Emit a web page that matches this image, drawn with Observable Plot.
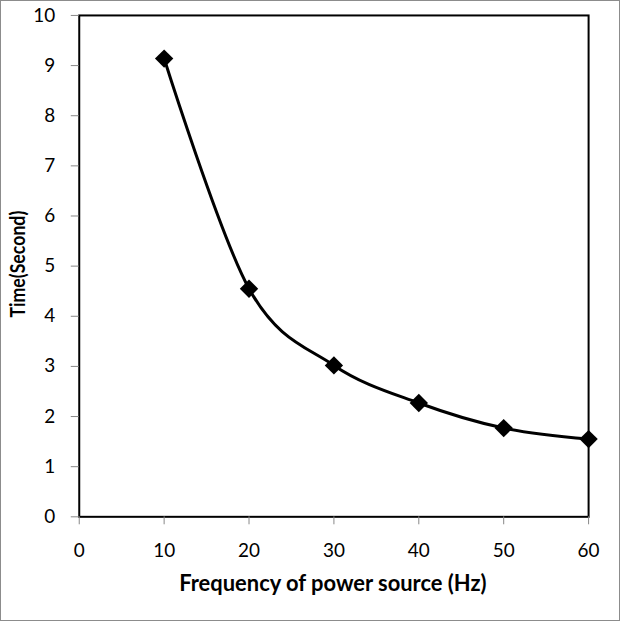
<!DOCTYPE html>
<html>
<head>
<meta charset="utf-8">
<script src="https://cdn.jsdelivr.net/npm/d3@7"></script>
<script src="https://cdn.jsdelivr.net/npm/@observablehq/plot@0.6"></script>
<style>
  html, body { margin: 0; padding: 0; background: #fff; }
  #wrap { position: relative; width: 618px; height: 619px; border: 1px solid #8c8c8c; overflow: hidden; }
  #wrap svg { position: absolute; left: -1px; top: -1px; }
</style>
</head>
<body>
<div id="wrap"></div>
<script>
const frequency = [10, 20, 30, 40, 50, 60];
const timeSeconds = [9.14, 4.55, 3.02, 2.27, 1.77, 1.55];
const xTicks = [0, 10, 20, 30, 40, 50, 60];
const yTicks = [0, 1, 2, 3, 4, 5, 6, 7, 8, 9, 10];
const xTitle = "Frequency of power source (Hz)";
const yTitle = "Time(Second)";

const data = frequency.map((f, i) => ({ f, t: timeSeconds[i] }));
const font = "Lato, 'Open Sans', sans-serif";

const chart = Plot.plot({
  width: 620,
  height: 621,
  marginLeft: 79,
  marginTop: 15,
  marginRight: 30,
  marginBottom: 103,
  style: { fontFamily: font, fontSize: "19px", color: "#000", background: "#fff" },
  x: { domain: [0, 60], label: null },
  y: { domain: [0, 10], label: null },
  marks: [
    Plot.frame({ stroke: "#000", strokeWidth: 2 }),
    Plot.axisX({ ticks: xTicks, tickSize: 8, tickPadding: 19, stroke: "#888", fill: "#000", fontSize: 19, label: null }),
    Plot.axisY({ ticks: yTicks, tickSize: 8, tickPadding: 16, stroke: "#888", fill: "#000", fontSize: 19, label: null }),
    Plot.line(data, { x: "f", y: "t", curve: "cardinal", stroke: "#000", strokeWidth: 3 }),
    Plot.dot(data, { x: "f", y: "t", symbol: "diamond2", r: 8.3, fill: "#000", stroke: "none" })
  ]
});

const svg = d3.select(chart);
svg.append("text")
  .attr("x", 334).attr("y", 593)
  .attr("text-anchor", "middle")
  .style("font-family", font).style("font-size", "22px").style("font-weight", "bold")
  .text(xTitle);
svg.append("text")
  .attr("transform", "translate(25,265) rotate(-90) scale(1,1.2)")
  .attr("text-anchor", "middle")
  .style("font-family", font).style("font-size", "17.8px").style("font-weight", "bold")
  .text(yTitle);

document.getElementById("wrap").appendChild(chart);
</script>
</body>
</html>
